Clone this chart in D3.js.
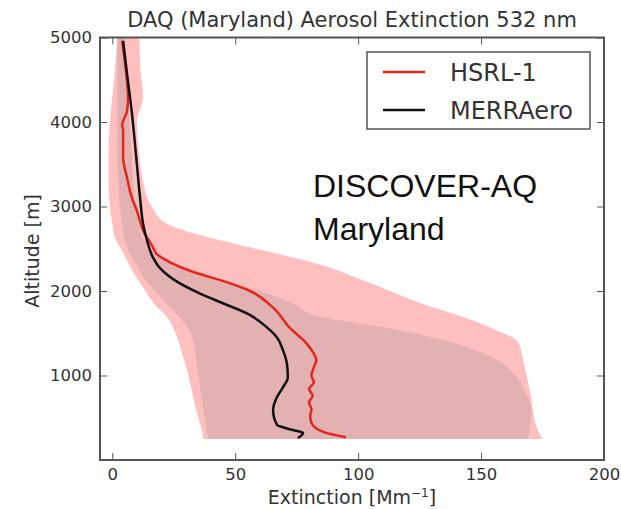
<!DOCTYPE html>
<html>
<head>
<meta charset="utf-8">
<script src="https://cdn.jsdelivr.net/npm/d3@7"></script>
<style>
  html, body { margin: 0; padding: 0; background: #fff; }
  svg { display: block; }
</style>
</head>
<body>
<div id="chart"></div>
<script>
// altitude grid shared by both spread bands [m]
const bandAlt = [250, 400, 600, 800, 1000, 1200, 1400, 1550, 1700, 1850, 2000, 2150, 2300, 2450, 2600, 2800, 3000, 3300, 3600, 4000, 4300, 4600, 5000];
const hsrlLo = [37, 36, 34, 32.5, 31, 29, 27, 25, 22, 17, 13.5, 10, 7, 4.5, 1.5, 0, -1, -1.5, -1.5, -1, 0, 1, 2];
const hsrlHi = [175, 172.5, 171, 170, 168.5, 167, 165, 155, 142, 126, 113, 100, 86, 66, 44, 22, 16, 12.5, 11, 10, 12.5, 11.5, 11];
const merraLo = [39, 38, 37, 36, 35, 34, 33, 31, 27, 22, 17.5, 13, 10, 7, 5, 4, 3, 2.5, 2, 2, 2, 2, 2];
const merraHi = [169, 170, 170.5, 168, 164, 155.5, 137, 114, 84, 74, 60, 43, 27, 18, 13, 10.5, 9.5, 8.5, 8, 7, 6.5, 6, 5];

// mean profiles
const hsrlAlt = [270, 330, 440, 520, 600, 680, 760, 840, 920, 1000, 1100, 1180, 1280, 1380, 1570, 1800, 2000, 2090, 2240, 2340, 2440, 2520, 2720, 2950, 3100, 3340, 3580, 3900, 3960, 4130, 4290, 4690, 4960];
const hsrlExt = [95, 86, 81, 80.5, 81, 80, 81.5, 80, 82, 81, 82, 83, 81.5, 79, 72, 65.5, 56, 48, 31.5, 23.5, 18, 16.5, 12.5, 10, 8, 6, 4.4, 4.4, 4, 6, 6.4, 5.2, 4];
const merraAlt = [260, 320, 355, 415, 590, 745, 860, 980, 1145, 1300, 1450, 1570, 1735, 1855, 1970, 2090, 2270, 2400, 2600, 2800, 3100, 3500, 4100, 4570, 4960];
const merraExt = [75.5, 77.6, 73.5, 67, 65.4, 67, 69.4, 71.4, 71, 69.4, 67, 62.9, 54.8, 45, 35.7, 27.5, 19.4, 16.5, 14.1, 12.5, 11.3, 10, 8, 6, 4.4];

const xTicks = [0, 50, 100, 150, 200];
const yTicks = [1000, 2000, 3000, 4000, 5000];
const seriesNames = ["HSRL-1", "MERRAero"];

const W = 621, H = 509;
const plot = { left: 100, right: 604, top: 37.5, bottom: 460 };

const svg = d3.select("#chart").append("svg")
  .attr("width", W)
  .attr("height", H);

const x = d3.scaleLinear().domain([-5, 200]).range([plot.left, plot.right]);
const y = d3.scaleLinear().domain([0, 5000]).range([plot.bottom, plot.top]);

const band = (lo, hi) => d3.area()
  .y((d, i) => y(bandAlt[i]))
  .x0((d, i) => x(lo[i]))
  .x1((d, i) => x(hi[i]))
  .curve(d3.curveMonotoneY)(bandAlt);

const profile = (alt, ext) => d3.line()
  .x((d, i) => x(ext[i]))
  .y((d, i) => y(alt[i]))
  .curve(d3.curveMonotoneY)(alt);

// spread bands
svg.append("path")
  .attr("d", band(hsrlLo, hsrlHi))
  .attr("fill", "rgb(255,0,0)")
  .attr("fill-opacity", 0.25);

svg.append("path")
  .attr("d", band(merraLo, merraHi))
  .attr("fill", "rgb(128,128,128)")
  .attr("fill-opacity", 0.22);

// mean lines
svg.append("path")
  .attr("d", profile(hsrlAlt, hsrlExt))
  .attr("fill", "none")
  .attr("stroke", "#e3261c")
  .attr("stroke-width", 2.5);

svg.append("path")
  .attr("d", profile(merraAlt, merraExt))
  .attr("fill", "none")
  .attr("stroke", "#111")
  .attr("stroke-width", 2.5);

// axes, ticks pointing inward
const tickFont = g => g.selectAll("text")
  .style("font-family", "DejaVu Sans")
  .style("font-size", "16.5px")
  .attr("fill", "#333");

svg.append("g")
  .attr("transform", `translate(0,${plot.bottom})`)
  .call(d3.axisBottom(x).tickValues(xTicks).tickSize(-7).tickPadding(8).tickFormat(d3.format("d")))
  .call(g => g.select(".domain").remove())
  .call(g => g.selectAll("line").attr("stroke", "#555"))
  .call(tickFont);

svg.append("g")
  .attr("transform", `translate(${plot.left},0)`)
  .call(d3.axisLeft(y).tickValues(yTicks).tickSize(-7).tickPadding(8).tickFormat(d3.format("d")))
  .call(g => g.select(".domain").remove())
  .call(g => g.selectAll("line").attr("stroke", "#555"))
  .call(tickFont);

svg.append("g")
  .attr("transform", `translate(0,${plot.top})`)
  .call(d3.axisTop(x).tickValues(xTicks).tickSize(-7).tickFormat(""))
  .call(g => g.select(".domain").remove())
  .call(g => g.selectAll("line").attr("stroke", "#555"));

svg.append("g")
  .attr("transform", `translate(${plot.right},0)`)
  .call(d3.axisRight(y).tickValues(yTicks).tickSize(-7).tickFormat(""))
  .call(g => g.select(".domain").remove())
  .call(g => g.selectAll("line").attr("stroke", "#555"));

svg.append("rect")
  .attr("x", plot.left)
  .attr("y", plot.top)
  .attr("width", plot.right - plot.left)
  .attr("height", plot.bottom - plot.top)
  .attr("fill", "none")
  .attr("stroke", "#555")
  .attr("stroke-width", 2);

// title and axis labels
svg.append("text")
  .attr("x", (plot.left + plot.right) / 2)
  .attr("y", 27)
  .attr("text-anchor", "middle")
  .style("font-family", "DejaVu Sans")
  .style("font-size", "21px")
  .attr("fill", "#333")
  .text("DAQ (Maryland) Aerosol Extinction 532 nm");

const xl = svg.append("text")
  .attr("x", (plot.left + plot.right) / 2)
  .attr("y", 504)
  .attr("text-anchor", "middle")
  .style("font-family", "DejaVu Sans")
  .style("font-size", "19px")
  .attr("fill", "#333");
xl.append("tspan").text("Extinction [Mm");
xl.append("tspan").attr("dy", -7).style("font-size", "12px").text("\u22121");
xl.append("tspan").attr("dy", 7).text("]");

svg.append("text")
  .attr("transform", "translate(39,251) rotate(-90)")
  .attr("text-anchor", "middle")
  .style("font-family", "DejaVu Sans")
  .style("font-size", "19px")
  .attr("fill", "#333")
  .text("Altitude [m]");

// legend
const legend = svg.append("g");
legend.append("rect")
  .attr("x", 367).attr("y", 52)
  .attr("width", 223).attr("height", 77)
  .attr("fill", "#fff")
  .attr("stroke", "#555")
  .attr("stroke-width", 1.5);

const legendColors = ["#e3261c", "#111"];
seriesNames.forEach((name, i) => {
  const ly = 72 + i * 38;
  legend.append("line")
    .attr("x1", 383).attr("x2", 425)
    .attr("y1", ly).attr("y2", ly)
    .attr("stroke", legendColors[i])
    .attr("stroke-width", 2.5);
  legend.append("text")
    .attr("x", 450).attr("y", ly + 8.5)
    .style("font-family", "DejaVu Sans")
    .style("font-size", "24px")
    .attr("fill", "#333")
    .text(name);
});

// campaign annotation
const note = svg.append("g")
  .style("font-family", "Liberation Sans")
  .style("font-size", "32px")
  .attr("fill", "#111");
note.append("text").attr("x", 313).attr("y", 197).text("DISCOVER-AQ");
note.append("text").attr("x", 313).attr("y", 240).text("Maryland");
</script>
</body>
</html>
